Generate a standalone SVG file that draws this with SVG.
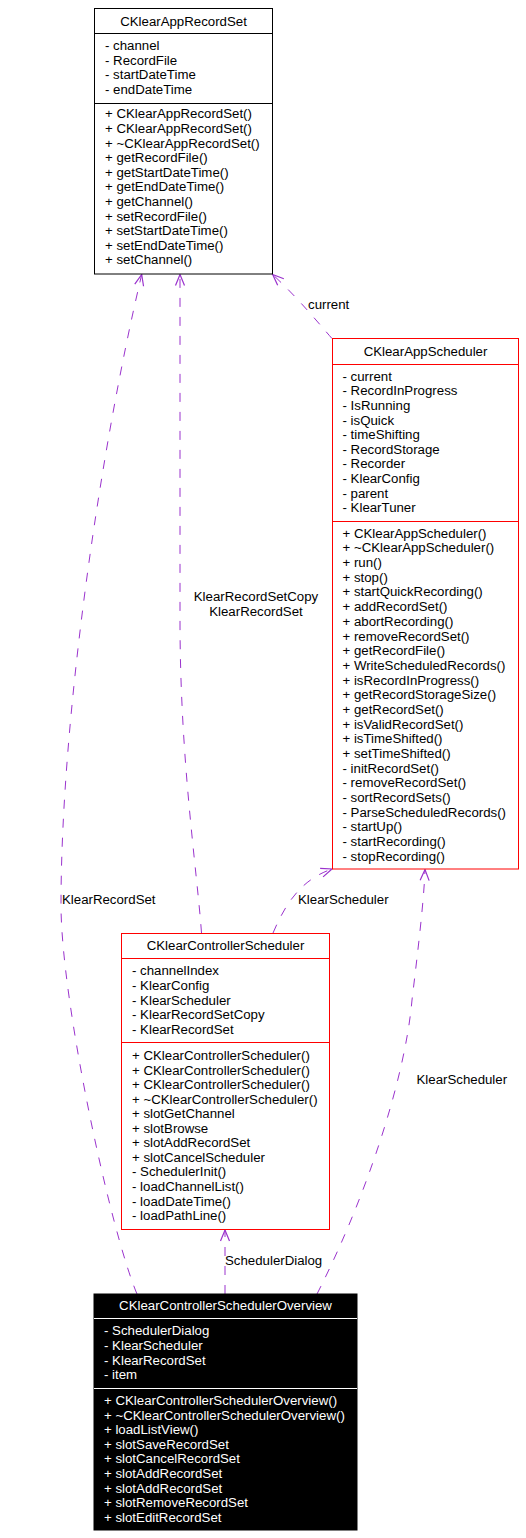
<svg xmlns="http://www.w3.org/2000/svg" width="526" height="1538" viewBox="0 0 526 1538">
<style>
text{font-family:"Liberation Sans",Arial,sans-serif;font-size:13.25px;fill:#000}
.box{fill:#fff;stroke:#000;stroke-width:1}
.red{fill:#fff;stroke:#ff0000;stroke-width:1}
.sep{stroke:#000;stroke-width:1}
.rsep{stroke:#ff0000;stroke-width:1}
.blk{fill:#000;stroke:#000}
.wsep{stroke:#fff;stroke-width:1}
.w{fill:#fff}
.t{text-anchor:middle}
.edge{fill:none;stroke:#9a32cd;stroke-width:1;stroke-dasharray:9,10;marker-end:url(#arr)}
</style>
<defs>
<marker id="arr" markerUnits="userSpaceOnUse" markerWidth="14" markerHeight="12" refX="11" refY="5" orient="auto" viewBox="-1 -1 14 12">
<path d="M0,0.5 L11,5 L0,9.5" fill="none" stroke="#9a32cd" stroke-width="1.2"/>
</marker>
</defs>
<rect width="526" height="1538" fill="#fff"/>
<g id="connectors">
<path class="edge" d="M137,1294 C110,1230 61,1000 61,905 C61,720 100,450 141.7,274.5"/>
<path class="edge" d="M201.5,933 C197,870 180,760 180,620 L180,274.5"/>
<path class="edge" d="M332,338.5 C320,325 300,300 272.7,274.5"/>
<path class="edge" d="M273,933 C285,905 300,880 332,869"/>
<path class="edge" d="M317,1294 C365,1200 405,1080 412,1000 C418,950 424,900 425,869.5"/>
<path class="edge" d="M225,1294 L225,1230"/>
<text x="62" y="904">KlearRecordSet</text>
<text class="t" x="256" y="601">KlearRecordSetCopy</text>
<text class="t" x="256" y="615.5">KlearRecordSet</text>
<text x="308" y="309">current</text>
<text x="298" y="904">KlearScheduler</text>
<text x="416.5" y="1084">KlearScheduler</text>
<text x="225" y="1265">SchedulerDialog</text>
</g>
<g id="CKlearAppRecordSet">
<rect class="box" x="94.5" y="8.5" width="178" height="265.5"/>
<line class="sep" x1="94.5" y1="33.5" x2="272.5" y2="33.5"/>
<line class="sep" x1="94.5" y1="103.5" x2="272.5" y2="103.5"/>
<text class="t" x="183.5" y="25.5">CKlearAppRecordSet</text>
<text x="105" y="50">- channel</text>
<text x="105" y="64.6">- RecordFile</text>
<text x="105" y="79.2">- startDateTime</text>
<text x="105" y="93.8">- endDateTime</text>
<text x="105" y="118.3">+ CKlearAppRecordSet()</text>
<text x="105" y="132.9">+ CKlearAppRecordSet()</text>
<text x="105" y="147.5">+ ~CKlearAppRecordSet()</text>
<text x="105" y="162.1">+ getRecordFile()</text>
<text x="105" y="176.7">+ getStartDateTime()</text>
<text x="105" y="191.3">+ getEndDateTime()</text>
<text x="105" y="205.9">+ getChannel()</text>
<text x="105" y="220.5">+ setRecordFile()</text>
<text x="105" y="235.1">+ setStartDateTime()</text>
<text x="105" y="249.7">+ setEndDateTime()</text>
<text x="105" y="264.3">+ setChannel()</text>
</g>
<g id="CKlearAppScheduler">
<rect class="red" x="332.5" y="338.5" width="186" height="530.5"/>
<line class="rsep" x1="332.5" y1="364.5" x2="518.5" y2="364.5"/>
<line class="rsep" x1="332.5" y1="521.5" x2="518.5" y2="521.5"/>
<text class="t" x="425.5" y="355.7">CKlearAppScheduler</text>
<text x="342.5" y="380.7">- current</text>
<text x="342.5" y="395.3">- RecordInProgress</text>
<text x="342.5" y="409.9">- IsRunning</text>
<text x="342.5" y="424.5">- isQuick</text>
<text x="342.5" y="439.1">- timeShifting</text>
<text x="342.5" y="453.7">- RecordStorage</text>
<text x="342.5" y="468.3">- Recorder</text>
<text x="342.5" y="482.9">- KlearConfig</text>
<text x="342.5" y="497.5">- parent</text>
<text x="342.5" y="512.1">- KlearTuner</text>
<text x="342.5" y="537.7">+ CKlearAppScheduler()</text>
<text x="342.5" y="552.4">+ ~CKlearAppScheduler()</text>
<text x="342.5" y="567.1">+ run()</text>
<text x="342.5" y="581.7">+ stop()</text>
<text x="342.5" y="596.4">+ startQuickRecording()</text>
<text x="342.5" y="611.1">+ addRecordSet()</text>
<text x="342.5" y="625.8">+ abortRecording()</text>
<text x="342.5" y="640.5">+ removeRecordSet()</text>
<text x="342.5" y="655.1">+ getRecordFile()</text>
<text x="342.5" y="669.8">+ WriteScheduledRecords()</text>
<text x="342.5" y="684.5">+ isRecordInProgress()</text>
<text x="342.5" y="699.2">+ getRecordStorageSize()</text>
<text x="342.5" y="713.9">+ getRecordSet()</text>
<text x="342.5" y="728.5">+ isValidRecordSet()</text>
<text x="342.5" y="743.2">+ isTimeShifted()</text>
<text x="342.5" y="757.9">+ setTimeShifted()</text>
<text x="342.5" y="772.6">- initRecordSet()</text>
<text x="342.5" y="787.3">- removeRecordSet()</text>
<text x="342.5" y="801.9">- sortRecordSets()</text>
<text x="342.5" y="816.6">- ParseScheduledRecords()</text>
<text x="342.5" y="831.3">- startUp()</text>
<text x="342.5" y="846.0">- startRecording()</text>
<text x="342.5" y="860.7">- stopRecording()</text>
</g>
<g id="CKlearControllerScheduler">
<rect class="red" x="121.5" y="933.5" width="208" height="296"/>
<line class="rsep" x1="121.5" y1="958.5" x2="329.5" y2="958.5"/>
<line class="rsep" x1="121.5" y1="1042.5" x2="329.5" y2="1042.5"/>
<text class="t" x="225.5" y="950">CKlearControllerScheduler</text>
<text x="132" y="975.3">- channelIndex</text>
<text x="132" y="989.9">- KlearConfig</text>
<text x="132" y="1004.5">- KlearScheduler</text>
<text x="132" y="1019.1">- KlearRecordSetCopy</text>
<text x="132" y="1033.7">- KlearRecordSet</text>
<text x="132" y="1060">+ CKlearControllerScheduler()</text>
<text x="132" y="1074.5">+ CKlearControllerScheduler()</text>
<text x="132" y="1089.1">+ CKlearControllerScheduler()</text>
<text x="132" y="1103.6">+ ~CKlearControllerScheduler()</text>
<text x="132" y="1118.2">+ slotGetChannel</text>
<text x="132" y="1132.7">+ slotBrowse</text>
<text x="132" y="1147.3">+ slotAddRecordSet</text>
<text x="132" y="1161.8">+ slotCancelScheduler</text>
<text x="132" y="1176.4">- SchedulerInit()</text>
<text x="132" y="1190.9">- loadChannelList()</text>
<text x="132" y="1205.5">- loadDateTime()</text>
<text x="132" y="1220">- loadPathLine()</text>
</g>
<g id="CKlearControllerSchedulerOverview">
<rect class="blk" x="94" y="1294" width="263" height="236"/>
<line class="wsep" x1="94" y1="1318.5" x2="357" y2="1318.5"/>
<line class="wsep" x1="94" y1="1388.5" x2="357" y2="1388.5"/>
<text class="t w" x="225.5" y="1310">CKlearControllerSchedulerOverview</text>
<text class="w" x="104" y="1335.3">- SchedulerDialog</text>
<text class="w" x="104" y="1350">- KlearScheduler</text>
<text class="w" x="104" y="1364.7">- KlearRecordSet</text>
<text class="w" x="104" y="1379.4">- item</text>
<text class="w" x="104" y="1405">+ CKlearControllerSchedulerOverview()</text>
<text class="w" x="104" y="1419.6">+ ~CKlearControllerSchedulerOverview()</text>
<text class="w" x="104" y="1434.2">+ loadListView()</text>
<text class="w" x="104" y="1448.8">+ slotSaveRecordSet</text>
<text class="w" x="104" y="1463.4">+ slotCancelRecordSet</text>
<text class="w" x="104" y="1478">+ slotAddRecordSet</text>
<text class="w" x="104" y="1492.6">+ slotAddRecordSet</text>
<text class="w" x="104" y="1507.2">+ slotRemoveRecordSet</text>
<text class="w" x="104" y="1521.8">+ slotEditRecordSet</text>
</g>
</svg>
